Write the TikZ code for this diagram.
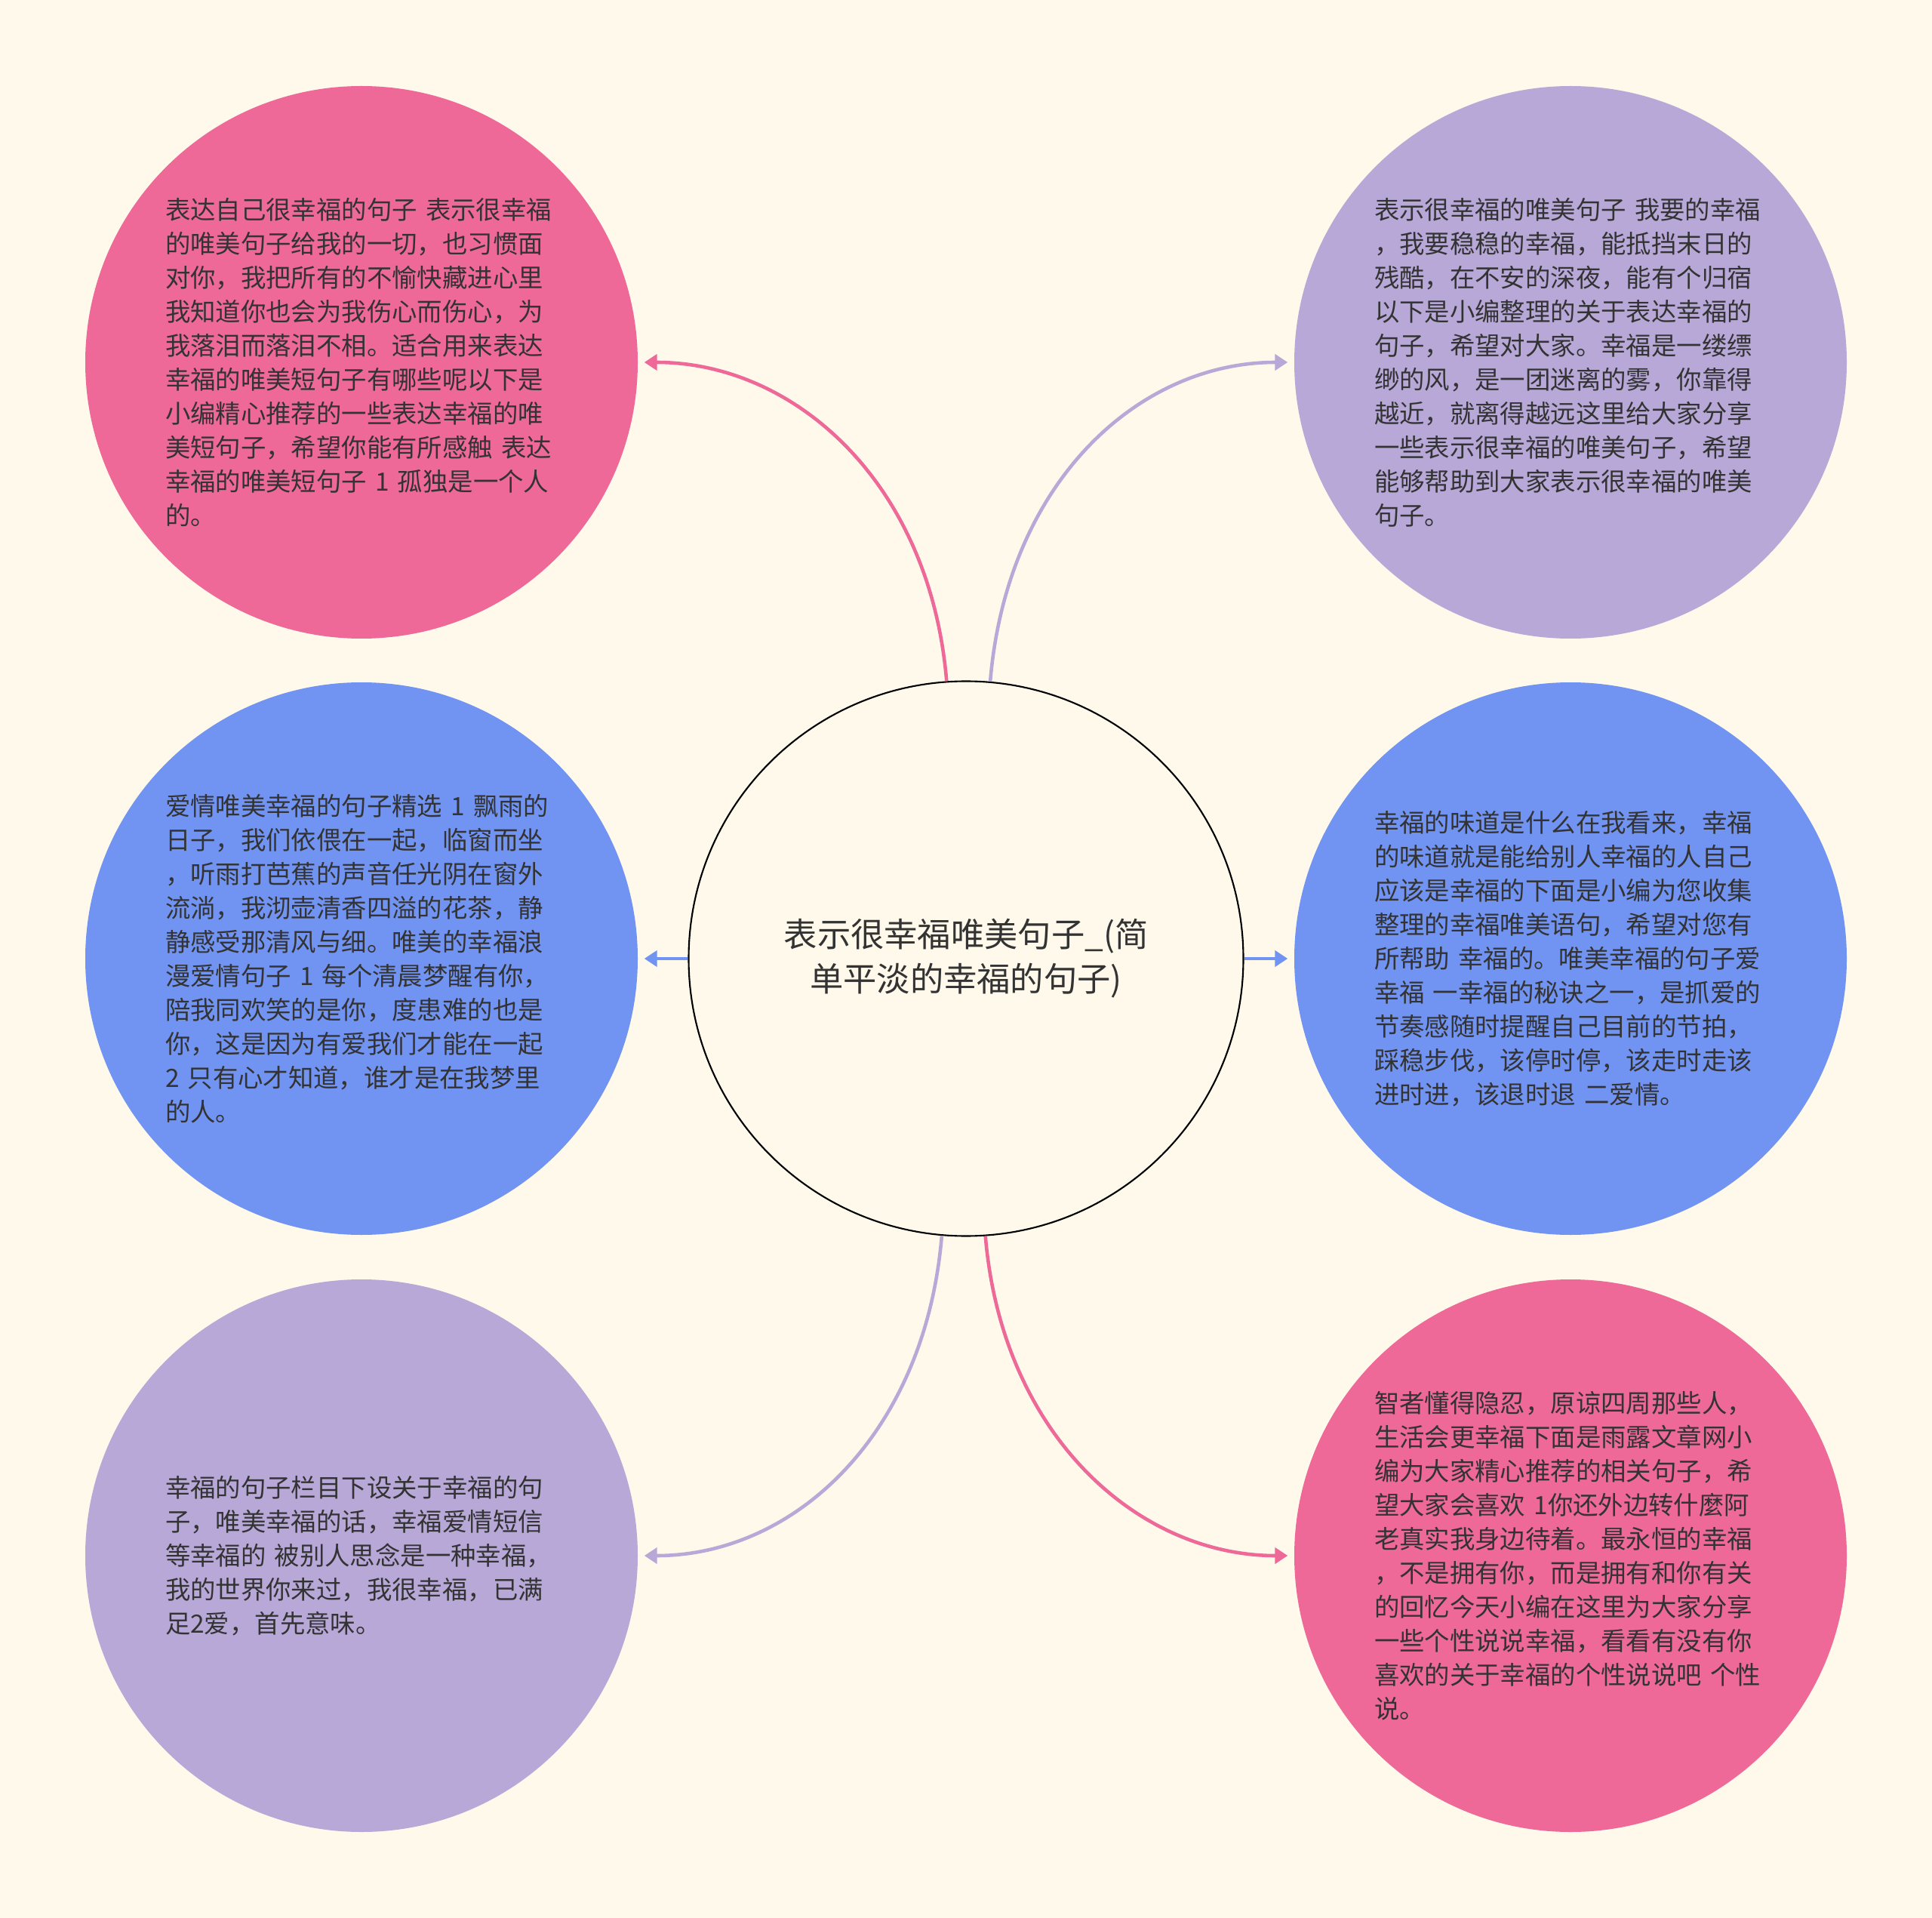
\documentclass[tikz,border=0pt]{standalone}
\usepackage{fontspec}
\setmainfont{Noto Sans CJK SC}
\usepackage{tikz}
\usetikzlibrary{arrows.meta}
\definecolor{fond}{HTML}{FEF9EA}
\definecolor{rose}{HTML}{EE6898}
\definecolor{mauve}{HTML}{B7A8D8}
\definecolor{bleu}{HTML}{7193F1}
\definecolor{encre}{HTML}{333333}
\tikzset{
Bulle/.style={
 circle,
 minimum size=7.32cm,
 inner sep=0pt,
 draw=none
 },
Centre/.style={
 circle,
 minimum size=7.35cm,
 inner sep=0pt,
 draw=black,
 line width=0.6pt,
 fill=fond
 },
Texte/.style={
 text width=5.3cm,
 align=left,
 inner sep=0pt,
 text=encre,
 font=\fontsize{9.5pt}{12.8pt}\selectfont
 },
Lien/.style={
 draw=#1,
 line width=1.3pt,
 -{Triangle[length=0.17cm,width=0.21cm]},
 shorten >=0.08cm
 }
}

\begin{document}
\begin{tikzpicture}
\useasboundingbox (0,0) rectangle (25.6,-25.41);
\fill[fond] (0,0) rectangle (25.6,-25.41);
% bulles
\node[Centre] (c) at (12.80,-12.70) {};
\node[Bulle,fill=rose] (hg) at (4.79,-4.80) {};
\node[Bulle,fill=mauve] (hd) at (20.81,-4.80) {};
\node[Bulle,fill=bleu] (mg) at (4.79,-12.70) {};
\node[Bulle,fill=bleu] (md) at (20.81,-12.70) {};
\node[Bulle,fill=mauve] (bg) at (4.79,-20.61) {};
\node[Bulle,fill=rose] (bd) at (20.81,-20.61) {};
% textes
\node[align=center,text=encre,font=\fontsize{12.6pt}{16.8pt}\selectfont] (ct) at (c) {表示很幸福唯美句子\_(简\\单平淡的幸福的句子)};
\node[Texte] (thg) at ([xshift=0.05cm]hg) {表达自己很幸福的句子 表示很幸福\\的唯美句子给我的一切，也习惯面\\对你，我把所有的不愉快藏进心里\\我知道你也会为我伤心而伤心，为\\我落泪而落泪不相。适合用来表达\\幸福的唯美短句子有哪些呢以下是\\小编精心推荐的一些表达幸福的唯\\美短句子，希望你能有所感触 表达\\幸福的唯美短句子 1 孤独是一个人\\的。};
\node[Texte] (thd) at ([xshift=0.05cm]hd) {表示很幸福的唯美句子 我要的幸福\\，我要稳稳的幸福，能抵挡末日的\\残酷，在不安的深夜，能有个归宿\\以下是小编整理的关于表达幸福的\\句子，希望对大家。幸福是一缕缥\\缈的风，是一团迷离的雾，你靠得\\越近，就离得越远这里给大家分享\\一些表示很幸福的唯美句子，希望\\能够帮助到大家表示很幸福的唯美\\句子。};
\node[Texte] (tmg) at ([xshift=0.05cm]mg) {爱情唯美幸福的句子精选 1 飘雨的\\日子，我们依偎在一起，临窗而坐\\，听雨打芭蕉的声音任光阴在窗外\\流淌，我沏壶清香四溢的花茶，静\\静感受那清风与细。唯美的幸福浪\\漫爱情句子 1 每个清晨梦醒有你，\\陪我同欢笑的是你，度患难的也是\\你，这是因为有爱我们才能在一起\\2 只有心才知道，谁才是在我梦里\\的人。};
\node[Texte] (tmd) at ([xshift=0.05cm]md) {幸福的味道是什么在我看来，幸福\\的味道就是能给别人幸福的人自己\\应该是幸福的下面是小编为您收集\\整理的幸福唯美语句，希望对您有\\所帮助 幸福的。唯美幸福的句子爱\\幸福 一幸福的秘诀之一，是抓爱的\\节奏感随时提醒自己目前的节拍，\\踩稳步伐，该停时停，该走时走该\\进时进，该退时退 二爱情。};
\node[Texte] (tbg) at ([xshift=0.05cm]bg) {幸福的句子栏目下设关于幸福的句\\子，唯美幸福的话，幸福爱情短信\\等幸福的 被别人思念是一种幸福，\\我的世界你来过，我很幸福，已满\\足2爱，首先意味。};
\node[Texte] (tbd) at ([xshift=0.05cm]bd) {智者懂得隐忍，原谅四周那些人，\\生活会更幸福下面是雨露文章网小\\编为大家精心推荐的相关句子，希\\望大家会喜欢 1你还外边转什麼阿\\老真实我身边待着。最永恒的幸福\\，不是拥有你，而是拥有和你有关\\的回忆今天小编在这里为大家分享\\一些个性说说幸福，看看有没有你\\喜欢的关于幸福的个性说说吧 个性\\说。};
% liens
\draw[Lien=rose] (c.94.3) .. controls +(-0.22,2.63) and +(2.07,0) .. (hg.east);
\draw[Lien=mauve] (c.85.7) .. controls +(0.22,2.63) and +(-2.07,0) .. (hd.west);
\draw[Lien=bleu] (c.west) -- (mg.east);
\draw[Lien=bleu] (c.east) -- (md.west);
\draw[Lien=mauve] (c.265.7) .. controls +(-0.22,-2.63) and +(2.07,0) .. (bg.east);
\draw[Lien=rose] (c.274.3) .. controls +(0.22,-2.63) and +(-2.07,0) .. (bd.west);
\end{tikzpicture}
\end{document}
